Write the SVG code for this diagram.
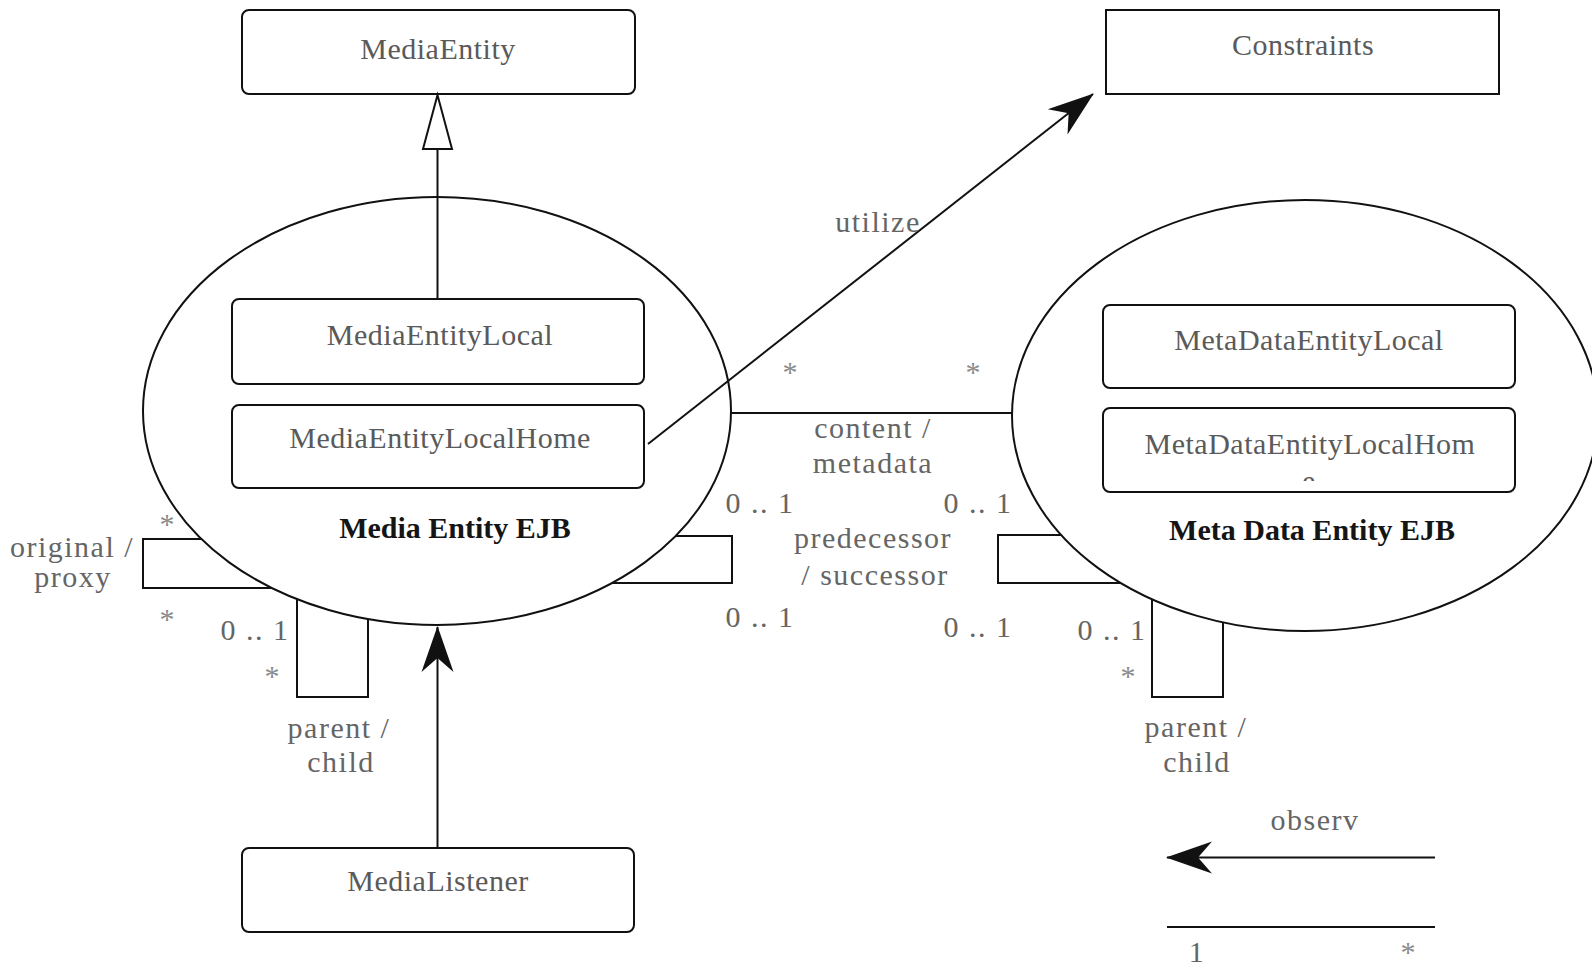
<svg xmlns="http://www.w3.org/2000/svg" width="1592" height="969" viewBox="0 0 1592 969">
  <style>
    .box { fill: #ffffff; stroke: #111111; stroke-width: 2; }
    .ejb { fill: none; stroke: #111111; stroke-width: 2; }
    .line { fill: none; stroke: #111111; stroke-width: 2; }
    .name { font-family: "Liberation Serif", "Times New Roman", serif; font-size: 30px; fill: #5a5a5a; text-anchor: middle; letter-spacing: 0.5px; }
    .title { font-family: "Liberation Serif", "Times New Roman", serif; font-size: 30px; font-weight: bold; fill: #151515; text-anchor: middle; }
    .lbl { font-family: "Liberation Serif", "Times New Roman", serif; font-size: 30px; fill: #656565; text-anchor: middle; letter-spacing: 1.5px; }
    .star { font-family: "Liberation Serif", "Times New Roman", serif; font-size: 30px; fill: #8a8a8a; text-anchor: middle; }
  </style>
  <defs>
    <!-- filled barbed arrowhead used for navigable associations -->
    <marker id="stealth" viewBox="-47 -18 50 36" refX="0" refY="0" markerWidth="50" markerHeight="36" markerUnits="userSpaceOnUse" orient="auto">
      <path d="M1,0 L-45,-16 L-31,0 L-45,16 Z" fill="#111111"/>
    </marker>
    <clipPath id="homeClip">
      <rect x="1100" y="408" width="418" height="73"/>
    </clipPath>
  </defs>

  <rect width="1592" height="969" fill="#ffffff"/>

  <!-- interface MediaEntity -->
  <g id="media-entity">
    <rect class="box" x="242" y="10" width="393" height="84" rx="7"/>
    <text class="name" x="438" y="59">MediaEntity</text>
  </g>

  <!-- Constraints class -->
  <g id="constraints">
    <rect class="box" x="1106" y="10" width="393" height="84"/>
    <text class="name" x="1303" y="55">Constraints</text>
  </g>

  <!-- Media Entity EJB component -->
  <g id="media-entity-ejb">
    <ellipse class="ejb" cx="437" cy="411" rx="294" ry="214"/>
    <text class="title" x="455" y="538">Media Entity EJB</text>
  </g>
  <g id="media-entity-local">
    <rect class="box" x="232" y="299" width="412" height="85" rx="7"/>
    <text class="name" x="440" y="345">MediaEntityLocal</text>
  </g>
  <g id="media-entity-local-home">
    <rect class="box" x="232" y="405" width="412" height="83" rx="7"/>
    <text class="name" x="440" y="448">MediaEntityLocalHome</text>
  </g>

  <!-- Meta Data Entity EJB component -->
  <g id="meta-data-entity-ejb">
    <ellipse class="ejb" cx="1305" cy="415.5" rx="293" ry="215.5"/>
    <text class="title" x="1312" y="540">Meta Data Entity EJB</text>
  </g>
  <g id="meta-data-entity-local">
    <rect class="box" x="1103" y="305" width="412" height="83" rx="7"/>
    <text class="name" x="1309" y="350">MetaDataEntityLocal</text>
  </g>
  <g id="meta-data-entity-local-home">
    <rect class="box" x="1103" y="408" width="412" height="84" rx="7"/>
    <text class="name" x="1310" y="454">MetaDataEntityLocalHom</text>
    <text class="name" x="1309" y="491" clip-path="url(#homeClip)">e</text>
  </g>

  <!-- MediaListener interface -->
  <g id="media-listener">
    <rect class="box" x="242" y="848" width="392" height="84" rx="7"/>
    <text class="name" x="438" y="891">MediaListener</text>
  </g>

  <!-- associations, generalization and legend -->
  <g id="connectors">
    <!-- MediaEntityLocal realizes MediaEntity -->
    <line class="line" x1="437.5" y1="299" x2="437.5" y2="149"/>
    <polygon points="437.5,95 423,149 452,149" fill="#ffffff" stroke="#111111" stroke-width="2"/>

    <!-- utilize -->
    <line class="line" x1="648" y1="444" x2="1093" y2="94" marker-end="url(#stealth)"/>
    <text class="lbl" x="878" y="232">utilize</text>

    <!-- content / metadata -->
    <line class="line" x1="731" y1="413" x2="1012" y2="413"/>
    <text class="star" x="790" y="382">*</text>
    <text class="star" x="973" y="382">*</text>
    <text class="lbl" x="873" y="438">content /</text>
    <text class="lbl" x="873" y="473">metadata</text>

    <!-- predecessor / successor, media side -->
    <path class="line" d="M675.6,536 H732 V583 H611.9"/>
    <text class="lbl" x="760" y="513">0 .. 1</text>
    <text class="lbl" x="760" y="627">0 .. 1</text>

    <!-- predecessor / successor, meta data side -->
    <path class="line" d="M1061.2,535 H998 V583 H1120.6"/>
    <text class="lbl" x="978" y="513">0 .. 1</text>
    <text class="lbl" x="978" y="637">0 .. 1</text>
    <text class="lbl" x="873" y="548">predecessor</text>
    <text class="lbl" x="875" y="585">/ successor</text>

    <!-- original / proxy -->
    <path class="line" d="M201.4,539 H143 V588 H271.8"/>
    <text class="star" x="167" y="534">*</text>
    <text class="star" x="167" y="629">*</text>
    <text class="lbl" x="72" y="557">original /</text>
    <text class="lbl" x="73" y="587">proxy</text>

    <!-- parent / child, media side -->
    <path class="line" d="M297,599.2 V697 H368 V619"/>
    <text class="lbl" x="255" y="640">0 .. 1</text>
    <text class="star" x="272" y="686">*</text>
    <text class="lbl" x="339" y="738">parent /</text>
    <text class="lbl" x="341" y="772">child</text>

    <!-- parent / child, meta data side -->
    <path class="line" d="M1152,599.3 V697 H1223 V622.4"/>
    <text class="lbl" x="1112" y="640">0 .. 1</text>
    <text class="star" x="1128" y="686">*</text>
    <text class="lbl" x="1196" y="737">parent /</text>
    <text class="lbl" x="1197" y="772">child</text>

    <!-- MediaListener observes Media Entity EJB -->
    <line class="line" x1="437.5" y1="848" x2="437.5" y2="627" marker-end="url(#stealth)"/>

    <!-- legend -->
    <text class="lbl" x="1315" y="830">observ</text>
    <line class="line" x1="1435" y1="857.5" x2="1167" y2="857.5" marker-end="url(#stealth)"/>
    <line class="line" x1="1167" y1="927" x2="1435" y2="927"/>
    <text class="lbl" x="1197" y="962">1</text>
    <text class="star" x="1408" y="962">*</text>
  </g>
</svg>
